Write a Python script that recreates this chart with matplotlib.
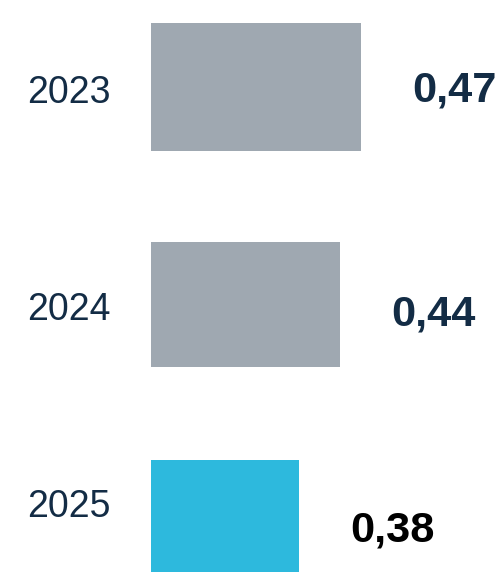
import matplotlib.pyplot as plt

years = ['2023', '2024', '2025']
values = [0.47, 0.44, 0.38]
value_labels = ['0,47', '0,44', '0,38']

bar_colors = ['#9fa8b1', '#9fa8b1', '#2db9dd']
label_colors = ['#132c45', '#132c45', '#000000']

# figure is laid out in pixels (dpi 100)
W, H = 503, 572
bar_top = [23, 242, 460]
bar_bottom = [151, 367, 572]
year_baseline = [103, 320, 517]
value_baseline = [102, 325, 542]

# value axis starts at `base`, bars begin at x_left pixels
base = 0.165
px_per_unit = 689
x_left = 151

plt.rcParams['font.family'] = ['Liberation Sans', 'DejaVu Sans']

fig = plt.figure(figsize=(W / 100, H / 100), dpi=100)
ax = fig.add_axes([0, 0, 1, 1])
ax.set_xlim(base - x_left / px_per_unit, base + (W - x_left) / px_per_unit)
ax.set_ylim(H, 0)
ax.axis('off')

for i, v in enumerate(values):
    yc = (bar_top[i] + bar_bottom[i]) / 2
    ax.barh(yc, v - base, height=bar_bottom[i] - bar_top[i], left=base,
            color=bar_colors[i])
    ax.annotate(value_labels[i], xy=(v, value_baseline[i]), xytext=(51, 0),
                textcoords='offset pixels', ha='left', va='baseline',
                fontsize=31.2, fontweight='bold', color=label_colors[i])
    ax.text(27 / W, year_baseline[i], years[i], transform=ax.get_yaxis_transform(),
            ha='left', va='baseline', fontsize=27, color='#132c45')

fig.savefig('out.png', dpi=100)
